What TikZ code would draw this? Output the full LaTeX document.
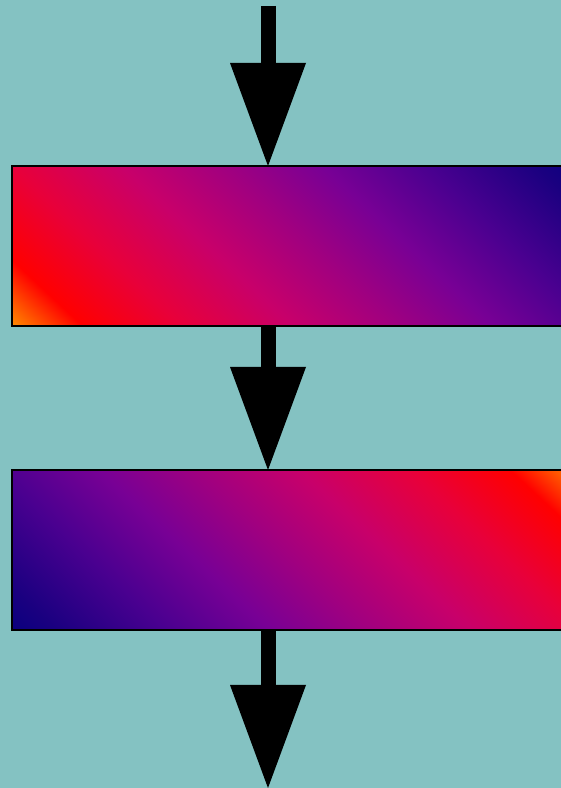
\documentclass[tikz,border=0pt]{standalone}
\usetikzlibrary{arrows.meta}
\definecolor{bgteal}{HTML}{84C2C2}
\definecolor{g0}{HTML}{FF8C00}
\definecolor{g1}{HTML}{FF0000}
\definecolor{g2}{HTML}{E8003A}
\definecolor{g3}{HTML}{C8006A}
\definecolor{g4}{HTML}{A00080}
\definecolor{g5}{HTML}{780095}
\definecolor{g6}{HTML}{4A0090}
\definecolor{g7}{HTML}{1A0080}
\definecolor{g8}{HTML}{0A007F}
\pgfdeclarehorizontalshading{diaggrad}{100bp}{color(0bp)=(g0); color(25bp)=(g0); color(29.8bp)=(g1); color(36.5bp)=(g2); color(44bp)=(g3); color(51bp)=(g4); color(57.5bp)=(g5); color(64.5bp)=(g6); color(72bp)=(g7); color(75bp)=(g8); color(100bp)=(g8)}
\begin{document}
\begin{tikzpicture}[x=1pt,y=1pt,
  boxshape/.style={rectangle, minimum width=569pt, minimum height=160pt, inner sep=0pt, outer sep=0pt, anchor=south west},
  border/.style={draw=black, line width=2pt},
  flow/.style={line width=15pt, -{Triangle[length=103pt, width=76pt, line width=0pt]}}]
\useasboundingbox (0,0) rectangle (561,788);
\clip (0,0) rectangle (561,788);
\fill[bgteal] (0,0) rectangle (561,788);
\node[boxshape] (r1) at (12,462) {};
\node[boxshape] (r2) at (12,158) {};
\begin{scope}
  \clip (r1.south west) rectangle (r1.north east);
  \shade[shading=diaggrad, transform canvas={shift={(r1.south west)}, rotate=47}] (0,-800) rectangle (505,800);
\end{scope}
\begin{scope}
  \clip (r2.south west) rectangle (r2.north east);
  \shade[shading=diaggrad, transform canvas={shift={(r2.north east)}, rotate=227}] (0,-800) rectangle (505,800);
\end{scope}
\draw[border] (r1.south west) rectangle (r1.north east);
\draw[border] (r2.south west) rectangle (r2.north east);
\coordinate (s0) at (268,782);
\coordinate (e3) at (268,0);
\draw[flow] (s0) -- (s0 |- r1.north);
\draw[flow] (s0 |- r1.south) -- (s0 |- r2.north);
\draw[flow] (s0 |- r2.south) -- (e3);
\end{tikzpicture}
\end{document}
